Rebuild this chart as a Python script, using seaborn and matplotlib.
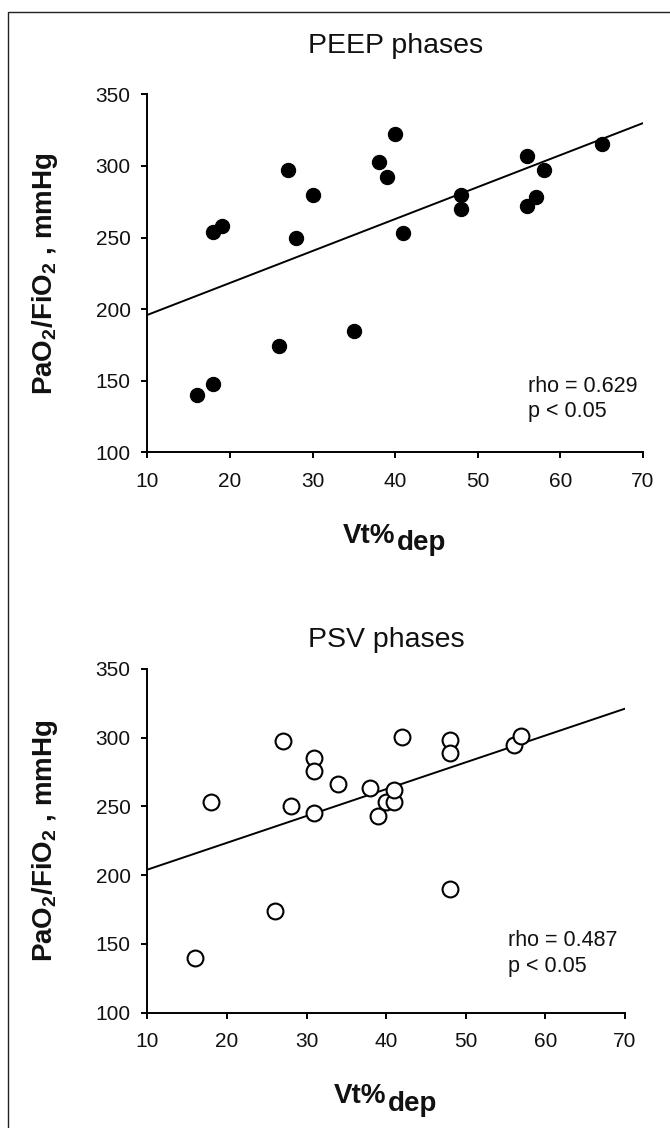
import matplotlib
matplotlib.use("Agg")
import matplotlib.pyplot as plt
from matplotlib.patches import Rectangle
import seaborn as sns
import pandas as pd

# ---- data ----
peep_vt = [16, 18, 18, 19, 26, 27, 28, 30, 35, 38, 39, 40, 41, 48, 48, 56, 56, 57, 58, 65]
peep_pf = [140, 148, 253.5, 258, 174.5, 297, 250, 280, 185, 303, 292, 322.5, 253, 280, 270, 307, 272, 278, 297, 315]

psv_vt = [16, 18, 26, 27, 28, 31, 31, 31, 34, 38, 39, 40, 41, 41, 42, 48, 48, 48, 56, 57]
psv_pf = [140, 253.5, 174, 297.5, 250, 285, 275.5, 245, 266.5, 263.5, 243, 253, 253, 262, 300.5, 298, 289, 190, 295, 301]

titles = ["PEEP phases", "PSV phases"]
stats = [["rho = 0.629", "p < 0.05"], ["rho = 0.487", "p < 0.05"]]
x_ticks = [10, 20, 30, 40, 50, 60, 70]
y_ticks = [100, 150, 200, 250, 300, 350]

sns.set_theme(style="ticks")
plt.rcParams["font.family"] = ["Liberation Sans", "DejaVu Sans"]
plt.rcParams["mathtext.fontset"] = "custom"
plt.rcParams["mathtext.rm"] = "Liberation Sans"
plt.rcParams["mathtext.it"] = "Liberation Sans:italic"
plt.rcParams["mathtext.bf"] = "Liberation Sans:bold"

W, H = 670, 1128
fig = plt.figure(figsize=(W / 100, H / 100), dpi=100)
fig.patch.set_facecolor("white")

def fx(px):
    return px / W

def fy(py):
    return 1 - py / H

# figure frame
fig.patches.append(Rectangle((fx(7.5), -0.02), 1.05, fy(12) + 0.02, transform=fig.transFigure,
                             fill=False, edgecolor="#222222", linewidth=1.0))

panels = [
    dict(left=147.3, right=643, top=94.3, bottom=452.3, vt=peep_vt, pf=peep_pf, filled=True,
         stat_xy=[(56.1, 142.3), (56.1, 124.9)], title_base=52.7),
    dict(left=147.3, right=625, top=669, bottom=1012.7, vt=psv_vt, pf=psv_pf, filled=False,
         stat_xy=[(55.35, 148.5), (55.35, 129.8)], title_base=647),
]

for i, p in enumerate(panels):
    ax = fig.add_axes([fx(p["left"]), fy(p["bottom"]), (p["right"] - p["left"]) / W,
                       (p["bottom"] - p["top"]) / H])
    df = pd.DataFrame({"vt": p["vt"], "pf": p["pf"]})
    ax.set_xlim(10, 70)
    ax.set_ylim(100, 350)
    sns.regplot(data=df, x="vt", y="pf", ax=ax, scatter=False, ci=None, truncate=False,
                line_kws=dict(color="black", linewidth=1.4, zorder=2))
    if p["filled"]:
        sns.scatterplot(data=df, x="vt", y="pf", ax=ax, s=105, color="black",
                        edgecolor="black", linewidth=0.8, zorder=3)
    else:
        sns.scatterplot(data=df, x="vt", y="pf", ax=ax, s=130, facecolor="white",
                        edgecolor="black", linewidth=1.5, zorder=3)
    ax.set_xlim(10, 70)
    ax.set_ylim(100, 350)
    ax.set_xticks(x_ticks)
    ax.set_yticks(y_ticks)
    ax.set_xlabel("")
    ax.set_ylabel("")
    ax.set_facecolor("white")
    for s in ["top", "right"]:
        ax.spines[s].set_visible(False)
    for s in ["left", "bottom"]:
        ax.spines[s].set_linewidth(1.4)
        ax.spines[s].set_color("black")
    ax.tick_params(axis="both", direction="out", length=4, width=1.4, color="black",
                   labelsize=15, labelcolor="#111111")
    ax.tick_params(axis="y", pad=8)
    ax.tick_params(axis="x", pad=10)

    for (sx, sy), txt in zip(p["stat_xy"], stats[i]):
        ax.text(sx, sy, txt, fontsize=15.5, ha="left", va="baseline", color="#111111")

    cx = (p["left"] + p["right"]) / 2
    fig.text(fx(cx), fy(p["title_base"]), titles[i], fontsize=20.5, ha="center",
             va="baseline", color="#111111")
    # x label: Vt% with 'dep' lowered
    xb = p["bottom"] + 90.7
    fig.text(fx(cx), fy(xb), "Vt%", fontsize=20, fontweight="bold", ha="right",
             va="baseline", color="#111111")
    fig.text(fx(cx + 1.5), fy(xb + 7.5), "dep", fontsize=20, fontweight="bold", ha="left",
             va="baseline", color="#111111")
    # y label
    cy = (p["top"] + p["bottom"]) / 2
    fig.text(fx(45), fy(cy), r"PaO$_\mathbf{2}$/FiO$_\mathbf{2}$ , mmHg", fontsize=20,
             fontweight="bold", rotation=90, ha="center", va="center", color="#111111")

fig.savefig("out.png", dpi=100, facecolor="white")
